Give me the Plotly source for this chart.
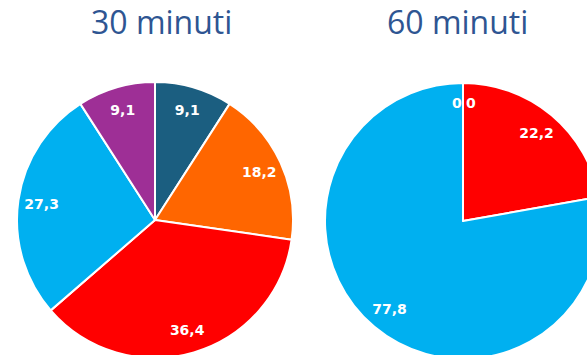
import plotly.graph_objects as go

# Categories and shares (%) for each time window
categories_30 = ["A", "B", "C", "D", "E"]
values_30 = [9.1, 18.2, 36.4, 27.3, 9.1]
colors_30 = ["#1B5E80", "#FF6600", "#FF0000", "#00B0F0", "#9E2F96"]

categories_60 = ["A", "C", "D", "E"]
values_60 = [0, 22.2, 77.8, 0]
colors_60 = ["#1B5E80", "#FF0000", "#00B0F0", "#9E2F96"]

titles = ["30 minuti", "60 minuti"]

W, H = 610, 365


def dom_x(a, b):
    return [a / W, b / W]


def dom_y(top, bottom):
    return [1 - bottom / H, 1 - top / H]


label_font = dict(family="DejaVu Sans, sans-serif", size=14, color="white")
title_font = dict(family="Open Sans, sans-serif", size=32, color="#2E5592")

pies = [
    (categories_30, values_30, colors_30, dom_x(17, 293), dom_y(82, 358)),
    (categories_60, values_60, colors_60, dom_x(325, 601), dom_y(83, 359)),
]

fig = go.Figure()
for cats, vals, cols, dx, dy in pies:
    # filled wedges
    fig.add_trace(go.Pie(
        labels=cats, values=vals, sort=False, direction="clockwise", rotation=0,
        marker=dict(colors=cols, line=dict(color="white", width=2)),
        textinfo="none", domain=dict(x=dx, y=dy), showlegend=False,
        hoverinfo="label+value",
    ))
    # transparent ring carrying the value labels near the outer edge
    fig.add_trace(go.Pie(
        labels=cats, values=vals, sort=False, direction="clockwise", rotation=0,
        hole=0.66, marker=dict(colors=["rgba(0,0,0,0)"] * len(vals),
                               line=dict(color="rgba(0,0,0,0)", width=0)),
        texttemplate="<b>%{value}</b>", textposition="inside",
        insidetextorientation="horizontal", textfont=label_font,
        domain=dict(x=dx, y=dy), showlegend=False, hoverinfo="skip",
    ))

annotations = [
    dict(text=titles[0], x=161 / W, y=1 - 22 / H),
    dict(text=titles[1], x=457 / W, y=1 - 22 / H),
]
for a in annotations:
    a.update(xref="paper", yref="paper", xanchor="center", yanchor="middle",
             showarrow=False, font=title_font)

# zero-valued slices have no wedge, so their labels sit beside the start line
for v, xpix in [(values_60[-1], 457), (values_60[0], 471)]:
    annotations.append(dict(text=f"<b>{v:g}</b>", x=xpix / W, y=1 - 103 / H,
                            xref="paper", yref="paper", xanchor="center",
                            yanchor="middle", showarrow=False, font=label_font))

fig.update_layout(
    width=W, height=H, margin=dict(l=0, r=0, t=0, b=0),
    paper_bgcolor="white", plot_bgcolor="white",
    separators=", ", annotations=annotations,
)

fig.write_html("out.html")
